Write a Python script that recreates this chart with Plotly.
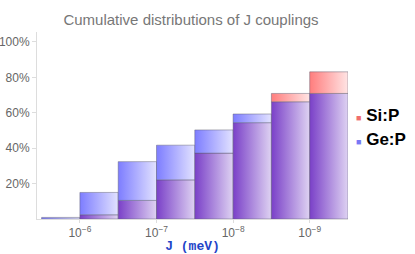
import plotly.graph_objects as go

# Bin edges as log10(J / meV), from larger J (left) to smaller J (right)
bin_left_exp = [-5.5, -6.0, -6.5, -7.0, -7.5, -8.0, -8.5, -9.0]
bin_right_exp = [-6.0, -6.5, -7.0, -7.5, -8.0, -8.5, -9.0, -9.5]
# cumulative percentages
si_p = [0.0, 2.4, 10.5, 22.1, 37.2, 54.4, 70.9, 83.1]
ge_p = [0.9, 15.0, 32.4, 41.7, 50.3, 59.3, 66.2, 70.9]
series_names = ["Si:P", "Ge:P"]
tick_exps = [-6, -7, -8, -9]
tick_labels = ["10<sup>\u22126</sup>", "10<sup>\u22127</sup>", "10<sup>\u22128</sup>", "10<sup>\u22129</sup>"]
y_ticks = [20, 40, 60, 80, 100]
y_tick_labels = ["20%", "40%", "60%", "80%", "100%"]

purple = ("rgb(122,64,200)", "rgb(222,210,242)")
blue = ("rgb(125,125,255)", "rgb(226,226,255)")
red = ("rgb(255,125,125)", "rgb(255,228,228)")
legend_cols = ["rgb(240,110,110)", "rgb(120,120,245)"]

W, H = 415, 254
L, R, T, B = 37, 67, 32, 35

fig = go.Figure()

def add_rect(x0e, x1e, y0, y1, cols):
    if y1 - y0 <= 0:
        return
    x0, x1 = 10 ** x0e, 10 ** x1e
    fig.add_trace(go.Scatter(
        x=[x0, x0, x1, x1, x0], y=[y0, y1, y1, y0, y0],
        mode="lines", fill="toself",
        line=dict(color="rgba(90,90,110,0.45)", width=1),
        fillgradient=dict(type="horizontal",
                          colorscale=[[0, cols[0]], [1, cols[1]]]),
        showlegend=False, hoverinfo="skip"))

for le, re_, s, g in zip(bin_left_exp, bin_right_exp, si_p, ge_p):
    lo = min(s, g)
    add_rect(le, re_, 0, lo, purple)
    if g > s:
        add_rect(le, re_, lo, g, blue)
    if s > g:
        add_rect(le, re_, lo, s, red)

annotations = []
for name, col, yp in zip(series_names, legend_cols, [0.556, 0.423]):
    annotations.append(dict(
        xref="paper", yref="paper", x=1.02, y=yp, xanchor="left", yanchor="middle",
        showarrow=False,
        text=f"<span style='font-size:9px;color:{col}'>\u25A0</span> <b>{name}</b>",
        font=dict(size=17, color="black", family="Liberation Sans, Arial, sans-serif")))

fig.update_layout(
    width=W, height=H,
    margin=dict(l=L, r=R, t=T, b=B, autoexpand=False),
    paper_bgcolor="white", plot_bgcolor="white",
    font=dict(family="Liberation Sans, Arial, sans-serif", color="#666"),
    title=dict(text="Cumulative distributions of J couplings",
               x=191 / W, xanchor="center", y=1 - 20 / H, yanchor="middle",
               yref="container", xref="container",
               font=dict(size=15, color="#777")),
    xaxis=dict(type="log", range=[-5.44, -9.5],
               tickvals=[10 ** e for e in tick_exps], ticktext=tick_labels,
               tickfont=dict(size=12, color="#666"),
               showgrid=False, zeroline=False,
               showline=True, linecolor="#ddd", linewidth=1,
               ticks="outside", ticklen=3, tickcolor="#ddd",
               title=dict(text="<b>J (meV)</b>", standoff=2,
                          font=dict(family="Liberation Mono, Courier New, monospace",
                                    size=13, color="#1f45c8"))),
    yaxis=dict(range=[0, 105.6], tickvals=y_ticks, ticktext=y_tick_labels,
               tickfont=dict(size=12, color="#666"),
               showgrid=False, zeroline=False,
               showline=True, linecolor="#ddd", linewidth=1,
               ticks="outside", ticklen=4, tickcolor="#ddd"),
    annotations=annotations,
    showlegend=False,
)

fig.write_html("out.html", config={"displayModeBar": False},
               post_script="document.body.style.margin='0px';")
